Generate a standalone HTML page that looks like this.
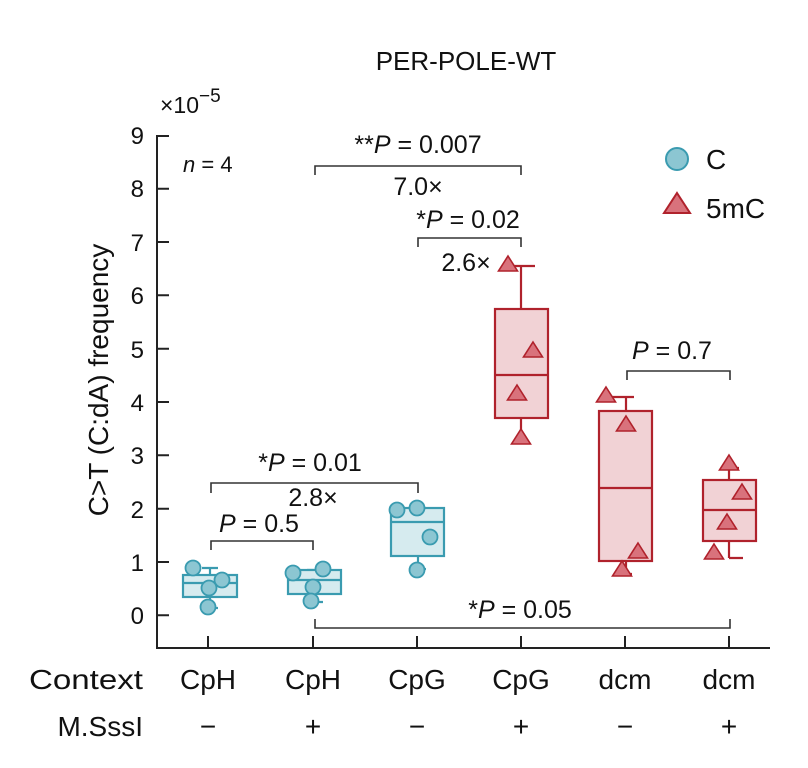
<!DOCTYPE html>
<html><head><meta charset="utf-8"><style>
html,body{margin:0;padding:0;background:#fff;}
svg{display:block;font-family:"Liberation Sans",sans-serif;}
</style></head><body>
<svg width="808" height="768" viewBox="0 0 808 768" xmlns="http://www.w3.org/2000/svg">
<text x="466" y="70" font-size="26" text-anchor="middle" fill="#111">PER-POLE-WT</text>
<text x="160" y="113" font-size="23" fill="#111">×10<tspan dy="-11" font-size="19">−5</tspan></text>
<g stroke="#222" stroke-width="2" fill="none">
<path d="M169 136 H157 V648 H770"/>
<path d="M157 188.7h12M157 242h12M157 295.3h12M157 348.7h12M157 402h12M157 455.3h12M157 508.7h12M157 562h12M157 615.3h12"/>
<path d="M208 648v-12M313 648v-12M417 648v-12M521 648v-12M625 648v-12M729 648v-12"/>
</g>
<g font-size="24" fill="#111" text-anchor="end">
<text x="144" y="144">9</text><text x="144" y="197">8</text><text x="144" y="251">7</text><text x="144" y="304">6</text><text x="144" y="358">5</text><text x="144" y="411">4</text><text x="144" y="464">3</text><text x="144" y="518">2</text><text x="144" y="571">1</text><text x="144" y="624">0</text>
</g>
<text transform="translate(108,380) rotate(-90)" font-size="28" text-anchor="middle" fill="#111">C&gt;T (C:dA) frequency</text>
<text x="183" y="172" font-size="22" fill="#111"><tspan font-style="italic">n</tspan> = 4</text>
<g font-size="28" fill="#111" text-anchor="middle">
<text x="143" y="689" text-anchor="end" textLength="114" lengthAdjust="spacingAndGlyphs">Context</text>
<text x="208" y="689">CpH</text><text x="313" y="689">CpH</text><text x="417" y="689">CpG</text><text x="521" y="689">CpG</text><text x="625" y="689">dcm</text><text x="729" y="689">dcm</text>
<text x="143" y="736" text-anchor="end">M.SssI</text>
<text x="208" y="736">−</text><text x="313" y="736">+</text><text x="417" y="736">−</text><text x="521" y="736">+</text><text x="625" y="736">−</text><text x="729" y="736">+</text>
</g>
<g stroke="#333" stroke-width="1.6" fill="none">
<path d="M211 550v-9h102v9"/>
<path d="M211 493v-10h207v10"/>
<path d="M315 175v-9h206v9"/>
<path d="M418 247v-9h103v9"/>
<path d="M627 380v-9h103v9"/>
<path d="M315 619v9h415v-9"/>
</g>
<g font-size="25" fill="#111" text-anchor="middle">
<text x="259" y="532"><tspan font-style="italic">P</tspan> = 0.5</text>
<text x="310" y="471">*<tspan font-style="italic">P</tspan> = 0.01</text>
<text x="313" y="506">2.8×</text>
<text x="418" y="153">**<tspan font-style="italic">P</tspan> = 0.007</text>
<text x="418" y="195">7.0×</text>
<text x="468" y="228">*<tspan font-style="italic">P</tspan> = 0.02</text>
<text x="466" y="271">2.6×</text>
<text x="672" y="359"><tspan font-style="italic">P</tspan> = 0.7</text>
<text x="520" y="618">*<tspan font-style="italic">P</tspan> = 0.05</text>
</g>
<g stroke="#3a9bb0" stroke-width="2.2" fill="#d6ebef">
<path d="M210 597v11M210 575v-7M202 608h16M202 568h16" fill="none"/>
<rect x="183" y="575" width="54" height="22"/><path d="M183 583h54"/>
<path d="M315 594v8M307 602h16M307 570h16" fill="none"/>
<rect x="288" y="570" width="53" height="24"/><path d="M288 580h53"/>
<path d="M418 556v13M410 569h16" fill="none"/>
<rect x="391" y="508" width="53" height="48"/><path d="M391 522h53"/>
</g>
<g stroke="#3a9bb0" stroke-width="1.8" fill="#8cc6d2">
<circle cx="193" cy="568" r="7.5"/><circle cx="222" cy="580" r="7.5"/><circle cx="209" cy="588" r="7.5"/><circle cx="208" cy="607" r="7.5"/>
<circle cx="293" cy="573" r="7.5"/><circle cx="323" cy="569" r="7.5"/><circle cx="313" cy="587" r="7.5"/><circle cx="311" cy="601" r="7.5"/>
<circle cx="397" cy="510" r="7.5"/><circle cx="417" cy="508" r="7.5"/><circle cx="430" cy="537" r="7.5"/><circle cx="417" cy="570" r="7.5"/>
</g>
<g stroke="#b0222c" stroke-width="2.2" fill="#f1d2d5">
<path d="M521 266v45M521 417v25M513 442h16M513 266h22" fill="none"/>
<rect x="495" y="309" width="53" height="109"/><path d="M495 375h53"/>
<path d="M626 411v-14M612 397h22M626 561v13M614 574h18" fill="none"/>
<rect x="599" y="411" width="53" height="150"/><path d="M599 488h53"/>
<path d="M729 480v-12M721 468h18M729 541v17M729 558h14" fill="none"/>
<rect x="703" y="480" width="53" height="61"/><path d="M703 510h53"/>
</g>
<g stroke="#b0222c" stroke-width="1.6" fill="#d9727c">
<path d="M508 256l9.5 15h-19z"/><path d="M533 342l9.5 15h-19z"/><path d="M517 385l9.5 15h-19z"/><path d="M521 429l9.5 15h-19z"/>
<path d="M606 387l9.5 15h-19z"/><path d="M626 416l9.5 15h-19z"/><path d="M638 543l9.5 15h-19z"/><path d="M622 561l9.5 15h-19z"/>
<path d="M729 455l9.5 15h-19z"/><path d="M742 484l9.5 15h-19z"/><path d="M727 514l9.5 15h-19z"/><path d="M714 544l9.5 15h-19z"/>
</g>
<circle cx="677" cy="159" r="11" fill="#8cc6d2" stroke="#3a9bb0" stroke-width="2"/>
<text x="706" y="169" font-size="28" fill="#111">C</text>
<path d="M677 193l13 20h-26z" fill="#d9727c" stroke="#b0222c" stroke-width="2"/>
<text x="706" y="218" font-size="28" fill="#111">5mC</text>
</svg>
</body></html>
